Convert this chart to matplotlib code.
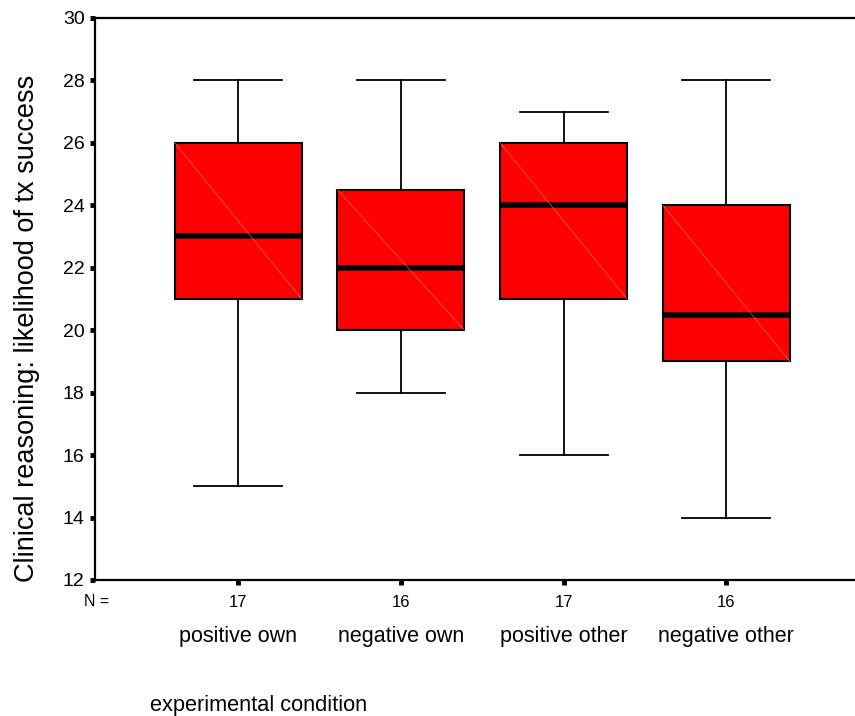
import matplotlib
matplotlib.use("Agg")
import matplotlib.pyplot as plt

plt.rcParams['font.family'] = ['Liberation Sans', 'DejaVu Sans']

categories = ["positive own", "negative own", "positive other", "negative other"]
n_counts = ["17", "16", "17", "16"]
whislo = [15, 18, 16, 14]
q1 = [21, 20, 21, 19]
med = [23, 22, 24, 20.5]
q3 = [26, 24.5, 26, 24]
whishi = [28, 28, 27, 28]
yticks = [12, 14, 16, 18, 20, 22, 24, 26, 28, 30]

fig = plt.figure(figsize=(8.55, 7.16), dpi=100)
ax = fig.add_axes([0.111, 0.19, 0.889, 0.785])

stats = []
for i in range(len(categories)):
    stats.append(dict(whislo=whislo[i], q1=q1[i], med=med[i], q3=q3[i],
                      whishi=whishi[i], fliers=[], label=n_counts[i]))
positions = list(range(1, len(categories) + 1))
width = 0.78
ax.bxp(stats, positions=positions, widths=width, patch_artist=True,
       showfliers=False, capwidths=0.54,
       boxprops=dict(facecolor='#ff0000', edgecolor='black', linewidth=1.5),
       medianprops=dict(color='black', linewidth=4),
       whiskerprops=dict(color='black', linewidth=1.3),
       capprops=dict(color='black', linewidth=1.3))

# faint rendering diagonal inside boxes
for i, p in enumerate(positions):
    ax.plot([p - width / 2, p + width / 2], [q3[i], q1[i]], color='#ff8080',
            linewidth=0.4, zorder=2.5)

ax.set_xlim(0.12, 4.79)
ax.set_ylim(12, 30)
ax.set_yticks(yticks)
ax.set_yticklabels([str(v) for v in yticks], fontsize=14)
ax.set_xticks(positions)
ax.set_xticklabels(n_counts, fontsize=12)
ax.tick_params(axis='both', direction='out', length=3.5, width=3.5, color='black')
ax.tick_params(axis='x', pad=7)
ax.tick_params(axis='y', pad=4)

ax.spines['right'].set_visible(False)
for s in ['left', 'bottom', 'top']:
    ax.spines[s].set_linewidth(1.6)

ax.set_ylabel("Clinical reasoning: likelihood of tx success", fontsize=19.5)
ax.yaxis.set_label_coords(-0.072, 0.447)

tr = ax.get_xaxis_transform()
for p, c in zip(positions, categories):
    ax.text(p, -0.1, c, transform=tr, ha='center', va='center', fontsize=15.5)
ax.text(0.13, -0.0375, "N =", transform=tr, ha='center', va='center', fontsize=11.5)

fig.text(0.175, 0.015, "experimental condition", ha='left', va='center', fontsize=15.7)

fig.savefig("out.png", dpi=100)
